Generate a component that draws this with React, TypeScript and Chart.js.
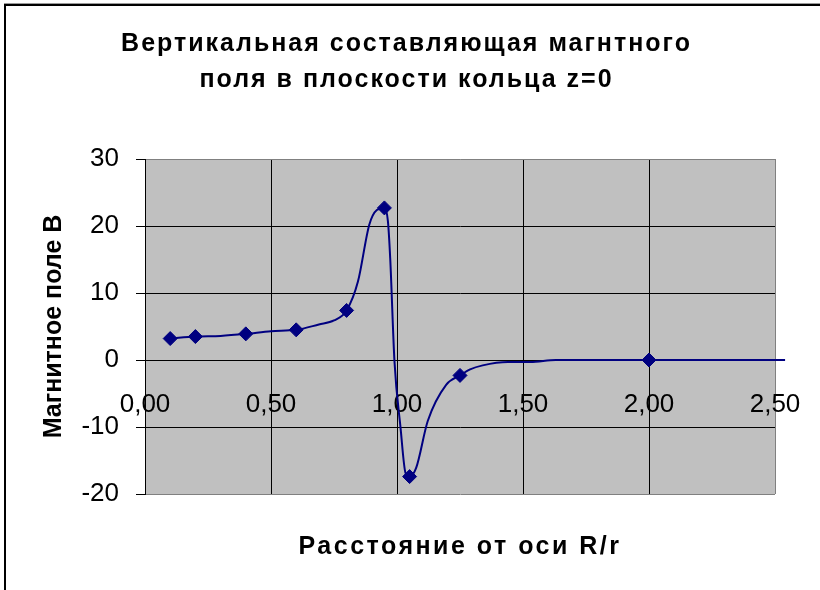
import React, { useEffect, useRef } from 'react';
import { Chart, registerables } from 'chart.js';

Chart.register(...registerables);

const TITLE_LINES = ['Вертикальная составляющая магнтного', 'поля в плоскости кольца z=0'];
const X_TITLE = 'Расстояние от оси R/r';
const Y_TITLE = 'Магнитное поле В';

const X_TICKS = [0, 0.5, 1.0, 1.5, 2.0, 2.5];
const Y_TICKS = [-20, -10, 0, 10, 20, 30];

// measured points (with markers)
const MARKER_X = [0.1, 0.2, 0.4, 0.6, 0.8, 0.95, 1.05, 1.25, 2.0];
const MARKER_Y = [3.2, 3.5, 3.9, 4.5, 7.4, 22.7, -17.4, -2.3, 0];

// smoothed curve through the points
const CURVE_X = [0.1, 0.2, 0.3, 0.4, 0.5, 0.6, 0.69, 0.75, 0.8, 0.845, 0.89, 0.92, 0.95, 0.964, 0.973, 0.99, 1.014, 1.034, 1.05, 1.076, 1.122, 1.195, 1.25, 1.29, 1.34, 1.44, 1.53, 1.63, 2.0, 2.54];
const CURVE_Y = [3.2, 3.5, 3.6, 3.9, 4.3, 4.5, 5.3, 5.9, 7.4, 11.7, 20.2, 22.4, 22.7, 20.7, 15.2, -0.2, -10.1, -16.9, -17.4, -16.1, -9.1, -3.7, -2.3, -1.4, -0.8, -0.3, -0.3, 0, 0, 0];

const FONT = "'Liberation Sans', Arial, sans-serif";
const NAVY = '#000080';

const backgroundPlugin = {
  id: 'excelBackground',
  beforeDraw(chart: any) {
    const { ctx, chartArea: a, width, height } = chart;
    ctx.save();
    ctx.fillStyle = '#ffffff';
    ctx.fillRect(0, 0, width, height);
    ctx.fillStyle = '#9a9a9a';
    ctx.fillRect(4, 3, width - 4, 1);
    ctx.fillStyle = '#000000';
    ctx.fillRect(4, 4, width - 4, 2);
    ctx.fillRect(4, 4, 2, height - 4);
    ctx.fillStyle = '#c0c0c0';
    ctx.fillRect(a.left, a.top, a.right - a.left, a.bottom - a.top);
    ctx.restore();

    // letter spacing for the title and the x-axis title
    const tb = chart.titleBlock;
    if (tb && !tb.__ls) {
      const orig = tb.draw;
      tb.draw = function (...args: any[]) {
        const c = this.ctx;
        c.save();
        c.translate(4, 0);
        c.letterSpacing = '2px';
        orig.apply(this, args);
        c.restore();
      };
      tb.__ls = true;
    }
    const s = chart.scales.x2;
    if (s && !s.__ls) {
      const origT = Object.getPrototypeOf(s).drawTitle;
      s.drawTitle = function (...args: any[]) {
        const c = this.ctx;
        c.save();
        c.letterSpacing = '2.5px';
        origT.apply(this, args);
        c.restore();
      };
      s.__ls = true;
    }
  },
};

export default function App() {
  const ref = useRef<HTMLCanvasElement | null>(null);

  useEffect(() => {
    if (!ref.current) return;
    const markers = MARKER_X.map((x, i) => ({ x, y: MARKER_Y[i] }));
    const curve = CURVE_X.map((x, i) => ({ x, y: CURVE_Y[i] }));

    const chart = new Chart(ref.current, {
      type: 'scatter',
      data: {
        datasets: [
          {
            label: 'curve',
            data: curve,
            showLine: true,
            borderColor: NAVY,
            borderWidth: 2,
            pointRadius: 0,
            cubicInterpolationMode: 'monotone',
            clip: false as any,
            order: 2,
          },
          {
            label: 'points',
            data: markers,
            showLine: false,
            pointStyle: 'rectRot',
            pointRadius: 7,
            backgroundColor: NAVY,
            borderColor: NAVY,
            borderWidth: 1,
            order: 1,
          },
        ],
      },
      options: {
        animation: false,
        responsive: false,
        layout: { padding: { left: 30, right: 45, top: 0, bottom: 0 } },
        plugins: {
          legend: { display: false },
          tooltip: { enabled: false },
          title: {
            display: true,
            text: TITLE_LINES,
            color: '#000',
            font: { family: FONT, size: 25, weight: 'bold', lineHeight: 1.44 },
            padding: { top: 26, bottom: 61 },
          },
        },
        scales: {
          x: {
            type: 'linear',
            position: { y: 0 } as any,
            min: 0,
            max: 2.5,
            afterFit: (sc: any) => {
              sc.paddingLeft = 0;
              sc.paddingRight = 0;
            },
            afterBuildTicks: (sc: any) => {
              sc.ticks = X_TICKS.map((v) => ({ value: v }));
            },
            ticks: {
              color: '#000',
              font: { family: FONT, size: 26 },
              padding: 29,
              maxRotation: 0,
              callback: (v: any) => Number(v).toFixed(2).replace('.', ','),
            },
            grid: {
              drawTicks: false,
              color: (c: any) => (c.tick && c.tick.value === 2.5 ? '#808080' : '#000000'),
              lineWidth: 1,
            },
            border: { display: true, color: '#000', width: 1 },
          },
          x2: {
            type: 'linear',
            position: 'bottom',
            afterFit: (sc: any) => {
              sc.height = 96;
              sc.paddingLeft = 0;
              sc.paddingRight = 0;
            },
            ticks: { display: false },
            grid: { display: false },
            border: { display: false },
            title: {
              display: true,
              text: X_TITLE,
              color: '#000',
              font: { family: FONT, size: 25, weight: 'bold' },
              padding: { top: 0, bottom: 28 },
            },
          },
          y: {
            type: 'linear',
            position: 'left',
            min: -20,
            max: 30,
            afterFit: (sc: any) => {
              sc.width = 115;
            },
            afterBuildTicks: (sc: any) => {
              sc.ticks = Y_TICKS.map((v) => ({ value: v }));
            },
            ticks: {
              color: '#000',
              font: { family: FONT, size: 26 },
              padding: 17,
              callback: (v: any) => String(v),
            },
            grid: {
              color: (c: any) =>
                c.tick && (c.tick.value === 30 || c.tick.value === -20) ? '#808080' : '#000000',
              tickColor: '#000',
              tickLength: 9,
              lineWidth: 1,
            },
            border: { display: true, color: '#000', width: 1 },
            title: {
              display: true,
              text: Y_TITLE,
              color: '#000',
              font: { family: FONT, size: 25, weight: 'bold' },
              padding: { top: 9, bottom: 0 },
            },
          },
        },
      } as any,
      plugins: [backgroundPlugin],
    });
    return () => chart.destroy();
  }, []);

  return (
    <div style={{ position: 'absolute', left: 0, top: 0, width: 820, height: 590 }}>
      <canvas ref={ref} width={820} height={590} style={{ display: 'block' }} />
    </div>
  );
}
